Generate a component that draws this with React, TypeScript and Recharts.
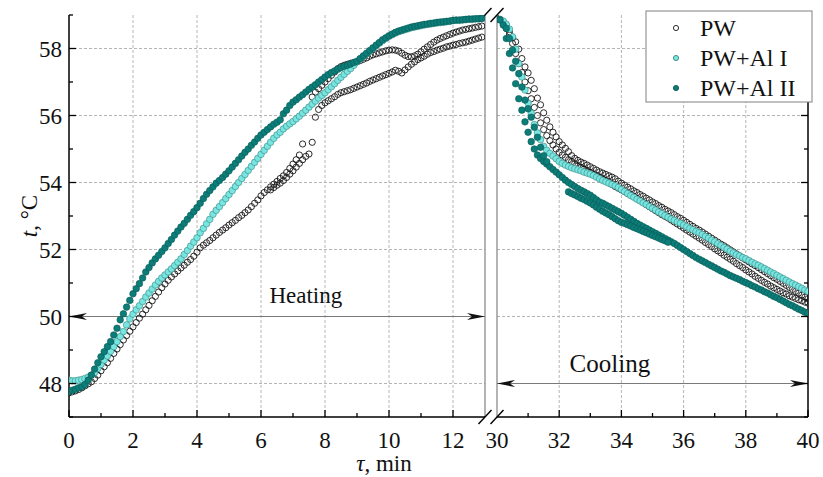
import React from 'react';
import { ScatterChart, Scatter, XAxis, YAxis, CartesianGrid, ReferenceLine, ReferenceDot } from 'recharts';

const SERIF = '"Liberation Serif", "Times New Roman", serif';
const STEP = 0.1; // logger interval, min

// ---- heating, values every 0.1 min ----
const pwHeatMainStart = 0;
const pwHeatMain = [
  47.72, 47.75, 47.78, 47.82, 47.87, 47.93, 47.99, 48.05, 48.15, 48.25,
  48.38, 48.5, 48.62, 48.75, 48.9, 49.03, 49.16, 49.3, 49.43, 49.56,
  49.69, 49.82, 49.95, 50.07, 50.2, 50.33, 50.47, 50.6, 50.73, 50.86,
  50.97, 51.08, 51.18, 51.27, 51.36, 51.45, 51.53, 51.62, 51.7, 51.8,
  51.92, 52.05, 52.13, 52.2, 52.27, 52.35, 52.43, 52.51, 52.58, 52.65,
  52.73, 52.8, 52.87, 52.95, 53.02, 53.1, 53.18, 53.28, 53.38, 53.48,
  53.6, 53.7, 53.78, 53.87, 53.95, 54.03, 54.12, 54.2, 54.3, 54.42,
  54.55, 54.68, 54.82,
];
const pwHeatBranchStart = 6.3;
const pwHeatBranch = [53.78, 53.85, 53.92, 53.98, 54.06, 54.15, 54.25, 54.35, 54.46, 54.57, 54.68, 54.78, 54.85];
const pwHeatLoneTau = [7.3, 7.6];
const pwHeatLoneT = [55.15, 55.2];
const pwHeatLowerStart = 7.7;
const pwHeatLower = [
  55.95, 56.18, 56.3,
  56.38, 56.44, 56.5, 56.56, 56.63, 56.68, 56.71, 56.74, 56.77, 56.81,
  56.85, 56.89, 56.93, 56.97, 57.02, 57.06, 57.1, 57.14, 57.18, 57.22,
  57.26, 57.3, 57.35, 57.32, 57.27, 57.36, 57.45, 57.53, 57.6, 57.67,
  57.72, 57.77, 57.83, 57.88, 57.91, 57.95, 57.98, 58.01, 58.05, 58.07,
  58.1, 58.12, 58.15, 58.17, 58.19, 58.22, 58.25, 58.28, 58.31, 58.34,
];
const pwHeatUpperStart = 7.6;
const pwHeatUpper = [
  56.55, 56.7, 56.8, 56.9,
  57.0, 57.1, 57.2, 57.3, 57.4, 57.46, 57.5, 57.53, 57.56, 57.58,
  57.6, 57.64, 57.68, 57.72, 57.77, 57.81, 57.84, 57.87, 57.9, 57.93,
  57.95, 57.96, 57.95, 57.92, 57.86, 57.8, 57.76, 57.75, 57.78, 57.83,
  57.9, 57.98, 58.05, 58.12, 58.19, 58.25, 58.3, 58.34, 58.38, 58.42,
  58.46, 58.49, 58.52, 58.55, 58.57, 58.59, 58.61, 58.63, 58.65, 58.67,
];
const alIHeatStart = 0;
const alIHeat = [
  48.1, 48.08, 48.08, 48.1, 48.12, 48.15, 48.19, 48.25, 48.33, 48.45,
  48.57, 48.7, 48.82, 48.96, 49.1, 49.25, 49.4, 49.55, 49.75, 49.93,
  50.07, 50.2, 50.32, 50.45, 50.58, 50.7, 50.82, 50.94, 51.05, 51.15,
  51.24, 51.33, 51.42, 51.52, 51.62, 51.72, 51.85, 51.97, 52.1, 52.22,
  52.35, 52.5, 52.63, 52.77, 52.9, 53.05, 53.17, 53.28, 53.4, 53.52,
  53.64, 53.76, 53.88, 54.0, 54.12, 54.24, 54.36, 54.48, 54.6, 54.72,
  54.84, 54.96, 55.08, 55.2, 55.32, 55.42, 55.5, 55.6, 55.68, 55.75,
  55.82, 55.9, 55.98, 56.07, 56.16, 56.25, 56.34, 56.43, 56.52, 56.6,
  56.68, 56.77, 56.86, 56.95, 57.05, 57.14, 57.23, 57.32, 57.4, 57.5,
  57.6, 57.68, 57.76, 57.84, 57.92, 58.0, 58.08, 58.16, 58.23, 58.3,
  58.36, 58.41, 58.46, 58.5, 58.53, 58.56, 58.59, 58.62, 58.64, 58.66,
  58.68, 58.7, 58.72, 58.73, 58.75, 58.76, 58.77, 58.78, 58.8, 58.81,
  58.83, 58.84, 58.84, 58.85, 58.86, 58.87, 58.87, 58.88, 58.89, 58.9,
];
const alIIHeatStart = 0;
const alIIHeat = [
  47.75, 47.8, 47.83, 47.87, 47.9, 47.97, 48.1, 48.25, 48.43, 48.62,
  48.8, 48.95, 49.1, 49.25, 49.45, 49.65, 49.9, 50.08, 50.28, 50.48,
  50.68, 50.83, 50.98, 51.15, 51.33, 51.46, 51.6, 51.72, 51.83, 51.94,
  52.05, 52.18, 52.3, 52.43, 52.55, 52.67, 52.78, 52.9, 53.02, 53.13,
  53.25, 53.38, 53.52, 53.65, 53.76, 53.87, 53.98, 54.06, 54.15, 54.25,
  54.35, 54.46, 54.57, 54.68, 54.79, 54.9, 55.0, 55.11, 55.21, 55.32,
  55.42, 55.5, 55.58, 55.66, 55.74, 55.8, 55.87, 56.05, 56.16, 56.3,
  56.4, 56.47, 56.55, 56.62, 56.7, 56.78, 56.85, 56.92, 57.0, 57.07,
  57.15, 57.22, 57.28, 57.33, 57.38, 57.43, 57.47, 57.5, 57.54, 57.58,
  57.62, 57.7, 57.78, 57.86, 57.94, 58.02, 58.1, 58.18, 58.26, 58.32,
  58.38, 58.43, 58.48, 58.52, 58.55, 58.58, 58.61, 58.64, 58.66, 58.68,
  58.7, 58.72, 58.73, 58.75, 58.76, 58.78, 58.79, 58.8, 58.81, 58.82,
  58.84, 58.85, 58.85, 58.86, 58.87, 58.88, 58.88, 58.89, 58.89, 58.9,
];

// ---- cooling, values every 0.1 min ----
const pwCoolAStart = 30;
const pwCoolA = [
  58.9, 58.87, 58.8, 58.68, 58.5, 58.32, 58.2, 57.98, 57.7, 57.45,
  57.27, 57.05, 56.8, 56.52, 56.32, 56.08, 55.86, 55.66, 55.5, 55.36,
  55.22, 55.12, 55.02, 54.92, 54.8, 54.72, 54.66, 54.61, 54.57, 54.52,
  54.47, 54.42, 54.37, 54.32, 54.28, 54.24, 54.2, 54.16, 54.11, 54.04,
  53.98, 53.92, 53.86, 53.81, 53.75, 53.7, 53.64, 53.59, 53.53, 53.48,
  53.42, 53.37, 53.31, 53.26, 53.2, 53.15, 53.1, 53.04, 52.98, 52.93,
  52.87, 52.81, 52.75, 52.69, 52.63, 52.58, 52.52, 52.46, 52.4, 52.34,
  52.28, 52.22, 52.16, 52.11, 52.05, 51.99, 51.93, 51.87, 51.81, 51.75,
  51.69, 51.63, 51.57, 51.52, 51.46, 51.4, 51.34, 51.28, 51.22, 51.16,
  51.11, 51.05, 50.99, 50.93, 50.87, 50.81, 50.75, 50.7, 50.64, 50.58,
  50.53,
];
const pwCoolBStart = 30.3;
const pwCoolB = [
  58.6, 58.4, 58.15, 57.85, 57.55, 57.28, 57.0,
  56.74, 56.5, 56.24, 56.0, 55.78, 55.58, 55.4, 55.25, 55.12, 55.0,
  54.9, 54.82, 54.75, 54.68, 54.62, 54.56, 54.5, 54.45, 54.4, 54.35,
  54.3, 54.25, 54.2, 54.16, 54.1, 54.05, 53.99, 53.94, 53.88, 53.83,
  53.78, 53.73, 53.68, 53.63, 53.58, 53.52, 53.46, 53.4, 53.34, 53.28,
  53.22, 53.16, 53.1, 53.04, 52.99, 52.94, 52.88, 52.82, 52.76, 52.7,
  52.64, 52.58, 52.52, 52.46, 52.4, 52.34, 52.28, 52.21, 52.15, 52.09,
  52.02, 51.96, 51.9, 51.83, 51.77, 51.71, 51.65, 51.58, 51.52, 51.46,
  51.39, 51.33, 51.27, 51.2, 51.14, 51.08, 51.02, 50.97, 50.91, 50.86,
  50.81, 50.76, 50.71, 50.67, 50.62, 50.58, 50.54, 50.5, 50.47, 50.43,
  50.4,
];
const alICoolStart = 30;
const alICool = [
  58.88, 58.86, 58.82, 58.72, 58.58, 58.35, 57.98, 57.55, 57.15, 56.76,
  56.37, 56.07, 55.73, 55.48, 55.28, 55.08, 54.96, 54.87, 54.79, 54.71,
  54.63, 54.57, 54.52, 54.48, 54.44, 54.41, 54.38, 54.35, 54.31, 54.28,
  54.25, 54.21, 54.16, 54.11, 54.06, 54.02, 53.98, 53.94, 53.9, 53.85,
  53.79, 53.73, 53.67, 53.61, 53.56, 53.5, 53.45, 53.39, 53.34, 53.28,
  53.23, 53.18, 53.12, 53.07, 53.01, 52.96, 52.91, 52.87, 52.82, 52.78,
  52.73, 52.68, 52.63, 52.59, 52.54, 52.5, 52.45, 52.39, 52.34, 52.28,
  52.23, 52.17, 52.12, 52.06, 52.01, 51.95, 51.9, 51.85, 51.81, 51.76,
  51.72, 51.67, 51.62, 51.57, 51.53, 51.48, 51.43, 51.38, 51.33, 51.28,
  51.23, 51.18, 51.13, 51.08, 51.03, 50.98, 50.94, 50.89, 50.84, 50.79,
  50.75,
];
const alIICoolAStart = 30;
const alIICoolA = [
  58.88, 58.85, 58.7, 58.3, 57.85, 57.42, 56.95, 56.5, 56.16, 55.81,
  55.5, 55.22, 55.0, 54.82, 54.72, 54.63, 54.55, 54.47, 54.39, 54.31,
  54.23, 54.15, 54.07, 54.0, 53.94, 53.88, 53.82, 53.77, 53.72, 53.67,
  53.62, 53.55, 53.48, 53.42, 53.38, 53.33, 53.28, 53.23, 53.18, 53.13,
  53.08, 53.02, 52.96, 52.9, 52.84, 52.78, 52.73, 52.68, 52.63, 52.58,
  52.53, 52.48, 52.43, 52.38, 52.33, 52.28, 52.23, 52.18, 52.12, 52.06,
  52.0, 51.94, 51.88, 51.82, 51.76, 51.71, 51.66, 51.61, 51.56, 51.51,
  51.46, 51.41, 51.36, 51.32, 51.27, 51.22, 51.18, 51.14, 51.1, 51.05,
  51.01, 50.97, 50.92, 50.88, 50.83, 50.79, 50.74, 50.7, 50.65, 50.6,
  50.56, 50.51, 50.46, 50.41, 50.36, 50.32, 50.27, 50.22, 50.18, 50.13,
  50.1,
];
const alIICoolBStart = 30.3;
const alIICoolB = [58.6, 58.3, 57.95, 57.62, 57.25, 56.85, 56.46, 56.2, 55.95, 55.65, 55.35, 55.05, 54.8, 54.62];
const alIICoolCStart = 32.3;
const alIICoolC = [
  53.72, 53.67, 53.63, 53.58, 53.53, 53.49, 53.44,
  53.39, 53.33, 53.26, 53.2, 53.14, 53.09, 53.04, 52.98, 52.92, 52.86,
  52.81, 52.78, 52.74, 52.7, 52.66, 52.62, 52.58, 52.54, 52.5, 52.46,
  52.42, 52.38, 52.34, 52.3, 52.26, 52.22,
];

// ---- axes ----
const heatTicks = [0, 1, 2, 3, 4, 5, 6, 7, 8, 9, 10, 11, 12, 13];
const coolTicks = [30, 31, 32, 33, 34, 35, 36, 37, 38, 39, 40];
const tempTicks = [47, 48, 49, 50, 51, 52, 53, 54, 55, 56, 57, 58, 59];
const heatGrid = [2, 4, 6, 8, 10, 12];
const coolGrid = [32, 34, 36, 38];
const tempGrid = [48, 50, 52, 54, 56, 58];

const seriesNames = ['PW', 'PW+Al I', 'PW+Al II'];
const heatingNote = { tau: 7.4, t: 50.6, text: 'Heating' };
const coolingNote = { tau: 33.63, t: 48.55, text: 'Cooling' };

function chain(start: number, values: number[]) {
  return values.map((t, i) => ({ tau: Math.round((start + i * STEP) * 100) / 100, t }));
}

const pwHeat = [
  ...chain(pwHeatMainStart, pwHeatMain),
  ...chain(pwHeatBranchStart, pwHeatBranch),
  ...pwHeatLoneTau.map((tau, i) => ({ tau, t: pwHeatLoneT[i] })),
  ...chain(pwHeatLowerStart, pwHeatLower),
  ...chain(pwHeatUpperStart, pwHeatUpper),
];
const alIHeatPts = chain(alIHeatStart, alIHeat);
const alIIHeatPts = chain(alIIHeatStart, alIIHeat);
const pwCool = [...chain(pwCoolAStart, pwCoolA), ...chain(pwCoolBStart, pwCoolB)];
const alICoolPts = chain(alICoolStart, alICool);
const alIICoolPts = [
  ...chain(alIICoolAStart, alIICoolA),
  ...chain(alIICoolBStart, alIICoolB),
  ...chain(alIICoolCStart, alIICoolC),
];

const COLORS = {
  pw: { fill: 'none', stroke: '#161616' },
  alI: { fill: '#76e6e1', stroke: '#3f8583' },
  alII: { fill: '#0c7d78', stroke: '#085a56' },
};

const ring = (p: any) => <circle cx={p.cx} cy={p.cy} r={3.1} fill={COLORS.pw.fill} stroke={COLORS.pw.stroke} strokeWidth={0.9} />;
const dotI = (p: any) => <circle cx={p.cx} cy={p.cy} r={3.3} fill={COLORS.alI.fill} stroke={COLORS.alI.stroke} strokeWidth={0.6} />;
const dotII = (p: any) => <circle cx={p.cx} cy={p.cy} r={3.3} fill={COLORS.alII.fill} stroke={COLORS.alII.stroke} strokeWidth={0.6} />;

const tickText = { fontFamily: SERIF, fontSize: 23, fill: '#111' };

function bottomTick(edge: number) {
  return (p: any) => {
    const v = p.payload.value;
    const major = v % 2 === 0;
    return (
      <g>
        {v !== edge && <line x1={p.x} x2={p.x} y1={p.y} y2={p.y - (major ? 7 : 4)} stroke="#000" strokeWidth={1.3} />}
        {major && <text x={p.x} y={p.y + 31} textAnchor="middle" {...tickText}>{v}</text>}
      </g>
    );
  };
}

function topTick(edge: number) {
  return (p: any) => {
    const v = p.payload.value;
    if (v === edge) return <g />;
    return <line x1={p.x} x2={p.x} y1={p.y} y2={p.y + (v % 2 === 0 ? 7 : 4)} stroke="#000" strokeWidth={1.3} />;
  };
}

const leftTick = (p: any) => {
  const v = p.payload.value;
  const major = v % 2 === 0;
  return (
    <g>
      <line x1={p.x} x2={p.x + (major ? 7 : 4)} y1={p.y} y2={p.y} stroke="#000" strokeWidth={1.3} />
      {major && <text x={p.x - 7} y={p.y + 8} textAnchor="end" {...tickText}>{v}</text>}
    </g>
  );
};

const rightTick = (p: any) => {
  const v = p.payload.value;
  return <line x1={p.x} x2={p.x - (v % 2 === 0 ? 7 : 4)} y1={p.y} y2={p.y} stroke="#000" strokeWidth={1.3} />;
};

// grey break edge with the // marks top and bottom
const breakShape = (p: any) => {
  const x = p.x1;
  const top = Math.min(p.y1, p.y2);
  const bot = Math.max(p.y1, p.y2);
  return (
    <g>
      <line x1={x} x2={x} y1={top} y2={bot} stroke="#8c8c8c" strokeWidth={1.3} />
      <line x1={x - 6.5} y1={top + 7} x2={x + 6.5} y2={top - 7} stroke="#000" strokeWidth={1.4} />
      <line x1={x - 6.5} y1={bot + 7} x2={x + 6.5} y2={bot - 7} stroke="#000" strokeWidth={1.4} />
    </g>
  );
};

const arrowShape = (p: any) => {
  const xa = Math.min(p.x1, p.x2);
  const xb = Math.max(p.x1, p.x2);
  const y = p.y1;
  const L = 18, H = 3.5, N = 13;
  return (
    <g>
      <line x1={xa} x2={xb} y1={y} y2={y} stroke="#7a7a7a" strokeWidth={1.2} />
      <polygon points={`${xa},${y} ${xa + L},${y - H} ${xa + N},${y} ${xa + L},${y + H}`} fill="#111" />
      <polygon points={`${xb},${y} ${xb - L},${y - H} ${xb - N},${y} ${xb - L},${y + H}`} fill="#111" />
    </g>
  );
};

const noteShape = (text: string, size: number) => (p: any) => (
  <text x={p.cx} y={p.cy + 7} textAnchor="middle" fontFamily={SERIF} fontSize={size} fill="#111">{text}</text>
);

const axisLine = { stroke: '#000', strokeWidth: 1.5 };

export default function App() {
  return (
    <div style={{ position: 'absolute', left: 0, top: 0, width: 823, height: 477, background: '#fff' }}>
      <div style={{ position: 'absolute', left: 0, top: 0 }}>
        <ScatterChart width={500} height={477} margin={{ top: 15, right: 15, bottom: 30, left: 29 }}>
          <CartesianGrid stroke="#b5b5b5" strokeDasharray="3 2" verticalValues={heatGrid} horizontalValues={tempGrid} />
          <XAxis type="number" dataKey="tau" domain={[0, 13]} ticks={heatTicks} interval={0} allowDataOverflow
            height={30} tickSize={0} tickMargin={0} tickLine={false} axisLine={axisLine} tick={bottomTick(13)} />
          <XAxis xAxisId="top" orientation="top" type="number" domain={[0, 13]} ticks={heatTicks} interval={0} allowDataOverflow
            height={0} tickSize={0} tickMargin={0} tickLine={false} axisLine={axisLine} tick={topTick(13)} />
          <YAxis type="number" dataKey="t" domain={[47, 59]} ticks={tempTicks} interval={0} allowDataOverflow
            width={40} tickSize={0} tickMargin={0} tickLine={false} axisLine={axisLine} tick={leftTick} />
          <ReferenceLine x={13} shape={breakShape} />
          <ReferenceLine segment={[{ x: 0, y: 50 }, { x: 13, y: 50 }]} shape={arrowShape} />
          <ReferenceDot x={heatingNote.tau} y={heatingNote.t} r={0} shape={noteShape(heatingNote.text, 23)} />
          <Scatter name={seriesNames[0]} data={pwHeat} shape={ring} isAnimationActive={false} />
          <Scatter name={seriesNames[1]} data={alIHeatPts} shape={dotI} isAnimationActive={false} />
          <Scatter name={seriesNames[2]} data={alIIHeatPts} shape={dotII} isAnimationActive={false} />
        </ScatterChart>
      </div>
      <div style={{ position: 'absolute', left: 480, top: 0 }}>
        <ScatterChart width={343} height={477} margin={{ top: 15, right: 0, bottom: 30, left: 17 }}>
          <CartesianGrid stroke="#b5b5b5" strokeDasharray="3 2" verticalValues={coolGrid} horizontalValues={tempGrid} />
          <XAxis type="number" dataKey="tau" domain={[30, 40]} ticks={coolTicks} interval={0} allowDataOverflow
            height={30} tickSize={0} tickMargin={0} tickLine={false} axisLine={axisLine} tick={bottomTick(30)} />
          <XAxis xAxisId="top" orientation="top" type="number" domain={[30, 40]} ticks={coolTicks} interval={0} allowDataOverflow
            height={0} tickSize={0} tickMargin={0} tickLine={false} axisLine={axisLine} tick={topTick(30)} />
          <YAxis orientation="right" type="number" dataKey="t" domain={[47, 59]} ticks={tempTicks} interval={0} allowDataOverflow
            width={15} tickSize={0} tickMargin={0} tickLine={false} axisLine={axisLine} tick={rightTick} />
          <ReferenceLine x={30} shape={breakShape} />
          <ReferenceLine segment={[{ x: 30, y: 48 }, { x: 40, y: 48 }]} shape={arrowShape} />
          <ReferenceDot x={coolingNote.tau} y={coolingNote.t} r={0} shape={noteShape(coolingNote.text, 25)} />
          <Scatter name={seriesNames[0]} data={pwCool} shape={ring} isAnimationActive={false} />
          <Scatter name={seriesNames[1]} data={alICoolPts} shape={dotI} isAnimationActive={false} />
          <Scatter name={seriesNames[2]} data={alIICoolPts} shape={dotII} isAnimationActive={false} />
        </ScatterChart>
      </div>
      <svg width={823} height={477} style={{ position: 'absolute', left: 0, top: 0, pointerEvents: 'none' }}>
        <text transform="translate(37,216) rotate(-90)" textAnchor="middle" fontFamily={SERIF} fontSize={23} fill="#111">
          <tspan fontStyle="italic">t</tspan>, °C
        </text>
        <text x={384} y={471} textAnchor="middle" fontFamily={SERIF} fontSize={23} fill="#111">
          <tspan fontStyle="italic">τ</tspan>, min
        </text>
        <rect x={646} y={11} width={166} height={91} fill="#fff" stroke="#808080" strokeWidth={1} />
        {seriesNames.map((name, i) => {
          const cy = 28 + i * 30;
          const c = i === 0 ? COLORS.pw : i === 1 ? COLORS.alI : COLORS.alII;
          return (
            <g key={name}>
              <circle cx={676} cy={cy} r={2.6} fill={c.fill} stroke={c.stroke} strokeWidth={0.9} />
              <text x={700} y={cy + 8} fontFamily={SERIF} fontSize={24} fill="#111">{name}</text>
            </g>
          );
        })}
      </svg>
    </div>
  );
}
